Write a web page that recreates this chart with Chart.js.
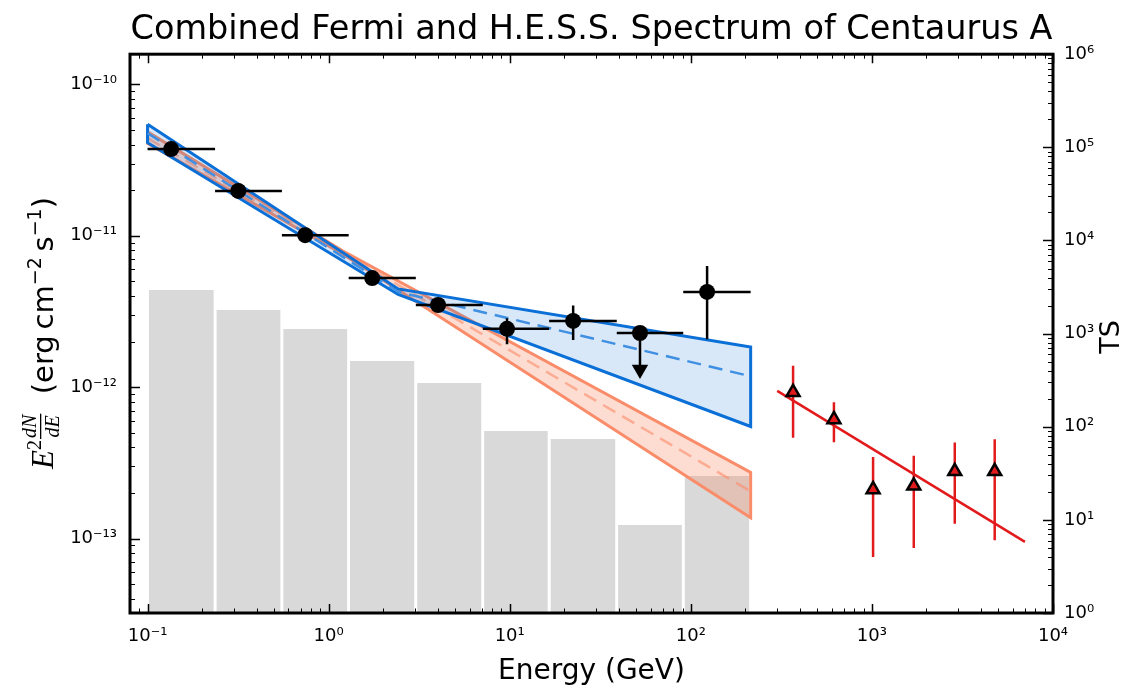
<!DOCTYPE html>
<html>
<head>
<meta charset="utf-8">
<script src="https://cdn.jsdelivr.net/npm/chart.js@4.4.1/dist/chart.umd.min.js"></script>
<style>
  html, body { margin: 0; padding: 0; background: #fff; }
  canvas { display: block; }
</style>
</head>
<body>
<canvas id="chart" width="1140" height="689"></canvas>
<script>
// Fermi-LAT flux points (GeV, erg cm^-2 s^-1)
const fermiE = [0.135, 0.317, 0.742, 1.74, 4.02, 9.66, 22.4, 52.4, 123];
const fermiF = [3.74e-11, 1.98e-11, 1.01e-11, 5.26e-12, 3.49e-12, 2.43e-12, 2.74e-12, 2.28e-12, 4.26e-12];
const fermiFLo = [null, null, null, null, null, 1.92e-12, 2.05e-12, null, 2.07e-12];
const fermiFHi = [null, null, null, null, null, 2.85e-12, 3.47e-12, null, 6.32e-12];
const fermiUpperLimit = [false, false, false, false, false, false, false, true, false];
const ulArrowHead = 1.31e-12;

// energy bins and TS per bin (right axis)
const binEdges = [0.1, 0.236, 0.552, 1.29, 3.03, 7.10, 16.5, 39.0, 90.8, 214];
const binTS = [2940, 1790, 1120, 508, 295, 90, 74, 8.8, 29.6];

// H.E.S.S. points
const hessE = [367, 617, 1015, 1703, 2868, 4765];
const hessF = [9.25e-13, 6.12e-13, 2.11e-13, 2.23e-13, 2.78e-13, 2.78e-13];
const hessFLo = [4.64e-13, 4.33e-13, 7.55e-14, 8.65e-14, 1.25e-13, 9.75e-14];
const hessFHi = [1.385e-12, 7.96e-13, 3.45e-13, 3.52e-13, 4.31e-13, 4.52e-13];
const hessFitE = [300, 7000];
const hessFitF = [9.45e-13, 9.5e-14];

// broken power law (blue) butterfly
const blueE = [0.1, 2.42, 214];
const blueModel = [4.77e-11, 4.26e-12, 1.18e-12];
const blueUpper = [5.47e-11, 4.46e-12, 1.84e-12];
const blueLower = [4.12e-11, 4.10e-12, 5.5e-13];

// single power law (orange) butterfly
const orangeE = [0.1, 1.2, 214];
const orangeModel = [4.42e-11, 7.74e-12, 2.05e-13];
const orangeUpper = [4.86e-11, 7.94e-12, 2.73e-13];
const orangeLower = [4.08e-11, 7.56e-12, 1.37e-13];

// tick labels
const xTickValues = [0.1, 1, 10, 100, 1000, 10000];
const yTickValues = [1e-13, 1e-12, 1e-11, 1e-10];
const tsTickValues = [1, 10, 100, 1000, 1e4, 1e5, 1e6];

const FONT = 'DejaVu Sans';
Chart.defaults.font.family = FONT;
Chart.defaults.color = '#000';

const SUP = {'-': '⁻', '0': '⁰', '1': '¹', '2': '²', '3': '³', '4': '⁴', '5': '⁵', '6': '⁶', '7': '⁷', '8': '⁸', '9': '⁹'};
const powLabel = v => '10' + String(Math.round(Math.log10(v))).split('').map(c => SUP[c]).join('');

const pts = (xs, ys) => xs.map((x, i) => ({x, y: ys[i]}));
// list of [x1, y1, x2, y2] -> one line dataset with gaps
const segs = list => {
  const out = [];
  list.forEach(([x1, y1, x2, y2]) => out.push({x: x1, y: y1}, {x: x2, y: y2}, {x: x2, y: null}));
  return out;
};
const outline = (E, up, lo) => [...pts(E, up), ...pts(E, lo).reverse(), {x: E[0], y: up[0]}];

const BLUE = '#0a6fd6';
const ORANGE = '#fa8c69';
const RED = '#e31a1c';
const lineBase = {pointRadius: 0, tension: 0, fill: false, spanGaps: false};

/* ===============================
   Datasets
=============================== */
const gap = 1.0166; // white gap between histogram bars
const barSets = binTS.map((ts, i) => ({
  ...lineBase,
  data: [{x: binEdges[i] * gap, y: ts}, {x: binEdges[i + 1] / gap, y: ts}],
  yAxisID: 'yTS',
  fill: 'start',
  backgroundColor: '#d9d9d9',
  borderWidth: 0,
  order: 20
}));

const bandSets = (E, up, lo, model, line, fillCol, dashCol, order) => [
  {...lineBase, data: pts(E, up), fill: '+1', backgroundColor: fillCol, borderWidth: 0, order: order + 2},
  {...lineBase, data: pts(E, lo), borderWidth: 0, order: order + 2},
  {...lineBase, data: outline(E, up, lo), borderColor: line, borderWidth: 3, borderJoinStyle: 'miter', order: order + 1},
  {...lineBase, data: pts(E, model), borderColor: dashCol, borderWidth: 2.5, borderDash: [14, 8], order: order}
];

const fermiXerr = segs(fermiE.map((e, i) => [binEdges[i], fermiF[i], binEdges[i + 1], fermiF[i]]));
const fermiYerr = segs(fermiE.map((e, i) => [e, fermiFLo[i], e, fermiFHi[i]]).filter(s => s[1] !== null));
const fermiUL = segs(fermiE.map((e, i) => [e, fermiF[i], e, ulArrowHead]).filter((s, i) => fermiUpperLimit[i]));
const fermiULHead = fermiE.map((e, i) => ({x: e, y: ulArrowHead})).filter((p, i) => fermiUpperLimit[i]);
const hessYerr = segs(hessE.map((e, i) => [e, hessFLo[i], e, hessFHi[i]]));

const datasets = [
  ...barSets,
  ...bandSets(orangeE, orangeUpper, orangeLower, orangeModel, ORANGE, 'rgba(250,140,105,0.3)', 'rgba(250,140,105,0.6)', 10),
  ...bandSets(blueE, blueUpper, blueLower, blueModel, BLUE, 'rgba(10,111,214,0.16)', '#3f8fe3', 6),
  {...lineBase, data: pts(hessFitE, hessFitF), borderColor: RED, borderWidth: 2.5, order: 4},
  {...lineBase, data: hessYerr, borderColor: RED, borderWidth: 2.5, order: 3},
  {...lineBase, data: fermiXerr, borderColor: '#000', borderWidth: 2.5, order: 3},
  {...lineBase, data: fermiYerr, borderColor: '#000', borderWidth: 2.5, order: 3},
  {...lineBase, data: fermiUL, borderColor: '#000', borderWidth: 2.5, order: 3},
  {
    ...lineBase, data: fermiULHead, showLine: false, pointStyle: 'triangle', pointRotation: 180,
    pointRadius: 9.5, pointBackgroundColor: '#000', pointBorderColor: '#000', pointBorderWidth: 0, order: 1
  },
  {
    ...lineBase, data: pts(fermiE, fermiF), showLine: false, pointRadius: 8,
    pointBackgroundColor: '#000', pointBorderColor: '#000', pointBorderWidth: 0, order: 0
  },
  {
    ...lineBase, data: pts(hessE, hessF), showLine: false, pointStyle: 'triangle', pointRadius: 7.5,
    pointBackgroundColor: RED, pointBorderColor: '#000', pointBorderWidth: 2.5, order: 0
  }
];

/* ===============================
   Axes: frame, inward ticks, rotated titles
=============================== */
function tickPositions(min, max) {
  const out = [];
  for (let e = Math.floor(Math.log10(min)); e <= Math.ceil(Math.log10(max)); e++) {
    for (let m = 1; m <= 9; m++) {
      const v = m * Math.pow(10, e);
      if (v >= min * 0.9999 && v <= max * 1.0001) out.push({v, major: m === 1});
    }
  }
  return out;
}

function drawRich(ctx, parts) {
  // parts: {t, f, dy} or {frac:[num, den], f}
  const widths = parts.map(p => {
    ctx.font = p.f;
    if (p.frac) return Math.max(ctx.measureText(p.frac[0]).width, ctx.measureText(p.frac[1]).width) + 4;
    return ctx.measureText(p.t).width;
  });
  let x = -widths.reduce((a, b) => a + b, 0) / 2;
  parts.forEach((p, i) => {
    ctx.font = p.f;
    if (p.frac) {
      const w = widths[i];
      ctx.textAlign = 'center';
      ctx.fillText(p.frac[0], x + w / 2, p.dy - 13);
      ctx.fillText(p.frac[1], x + w / 2, p.dy + 10);
      ctx.fillRect(x + 1, p.dy - 9, w - 2, 1.3);
      ctx.textAlign = 'left';
    } else {
      ctx.fillText(p.t, x, p.dy || 0);
    }
    x += widths[i];
  });
}

const axesPlugin = {
  id: 'axesDecor',
  afterDraw(chart) {
    const {ctx, chartArea: a, scales} = chart;
    ctx.save();
    ctx.strokeStyle = '#000';

    // inward ticks
    tickPositions(scales.x.min, scales.x.max).forEach(t => {
      const px = Math.round(scales.x.getPixelForValue(t.v)) + 0.5;
      const len = t.major ? 9 : 4.5;
      ctx.lineWidth = t.major ? 1.5 : 1;
      ctx.beginPath();
      ctx.moveTo(px, a.bottom); ctx.lineTo(px, a.bottom - len);
      ctx.moveTo(px, a.top); ctx.lineTo(px, a.top + len);
      ctx.stroke();
    });
    tickPositions(scales.y.min, scales.y.max).forEach(t => {
      const py = Math.round(scales.y.getPixelForValue(t.v)) + 0.5;
      ctx.lineWidth = t.major ? 1.5 : 1;
      ctx.beginPath();
      ctx.moveTo(a.left, py); ctx.lineTo(a.left + (t.major ? 10 : 5), py);
      ctx.stroke();
    });
    tickPositions(scales.yTS.min, scales.yTS.max).forEach(t => {
      const py = Math.round(scales.yTS.getPixelForValue(t.v)) + 0.5;
      ctx.lineWidth = t.major ? 1.5 : 1;
      ctx.beginPath();
      ctx.moveTo(a.right, py); ctx.lineTo(a.right - (t.major ? 10 : 5), py);
      ctx.stroke();
    });

    // frame
    ctx.lineWidth = 3;
    ctx.strokeRect(a.left, a.top, a.right - a.left, a.bottom - a.top);

    // left axis title
    ctx.fillStyle = '#000';
    ctx.textBaseline = 'alphabetic';
    ctx.textAlign = 'left';
    ctx.save();
    ctx.translate(53, 333);
    ctx.rotate(-Math.PI / 2);
    drawRich(ctx, [
      {t: 'E', f: 'italic 31px "Liberation Serif"'},
      {t: '2', f: '20px "Liberation Serif"', dy: -12},
      {frac: ['dN', 'dE'], f: 'italic 20px "Liberation Serif"', dy: -4},
      {t: '  (erg\u2009cm', f: `29px "${FONT}"`},
      {t: '\u22122', f: `19px "${FONT}"`, dy: -12},
      {t: '\u2009s', f: `29px "${FONT}"`},
      {t: '\u22121', f: `19px "${FONT}"`, dy: -12},
      {t: ')', f: `29px "${FONT}"`}
    ]);
    ctx.restore();

    // right axis title
    ctx.save();
    ctx.translate(1112, 337);
    ctx.rotate(-Math.PI / 2);
    ctx.font = `27px "${FONT}"`;
    ctx.textAlign = 'center';
    ctx.textBaseline = 'middle';
    ctx.fillText('TS', 0, 0);
    ctx.restore();

    ctx.restore();
  }
};

const tickFont = {family: FONT, size: 18};
const logAxis = (values, extra) => ({
  type: 'logarithmic',
  grid: {display: false, drawTicks: false},
  border: {display: false},
  afterBuildTicks: s => { s.ticks = values.map(v => ({value: v})); },
  ...extra
});

new Chart(document.getElementById('chart'), {
  type: 'line',
  data: {datasets},
  plugins: [axesPlugin],
  options: {
    responsive: false,
    animation: false,
    devicePixelRatio: 1,
    layout: {padding: 0},
    plugins: {
      legend: {display: false},
      tooltip: {enabled: false},
      title: {
        display: true,
        fullSize: false,
        text: 'Combined Fermi and H.E.S.S. Spectrum of Centaurus A',
        font: {family: FONT, size: 33.5, weight: 'normal'},
        color: '#000',
        padding: {top: 10, bottom: 4}
      }
    },
    scales: {
      x: logAxis(xTickValues, {
        position: 'bottom', min: 0.08, max: 1e4,
        afterFit: s => { s.height = 76; },
        ticks: {autoSkip: false, maxRotation: 0, font: tickFont, color: '#000', padding: 13, callback: v => powLabel(v)},
        title: {display: true, text: 'Energy (GeV)', font: {family: FONT, size: 28}, color: '#000', padding: {top: 0, bottom: 0}}
      }),
      y: logAxis(yTickValues, {
        position: 'left', min: 3.22e-14, max: 1.585e-10,
        afterFit: s => { s.width = 130; },
        ticks: {autoSkip: false, font: tickFont, color: '#000', padding: 13, callback: v => powLabel(v)}
      }),
      yTS: logAxis(tsTickValues, {
        position: 'right', min: 1, max: 1e6,
        afterFit: s => { s.width = 87; },
        ticks: {autoSkip: false, font: tickFont, color: '#000', padding: 11, callback: v => powLabel(v)}
      })
    }
  }
});
</script>
</body>
</html>
